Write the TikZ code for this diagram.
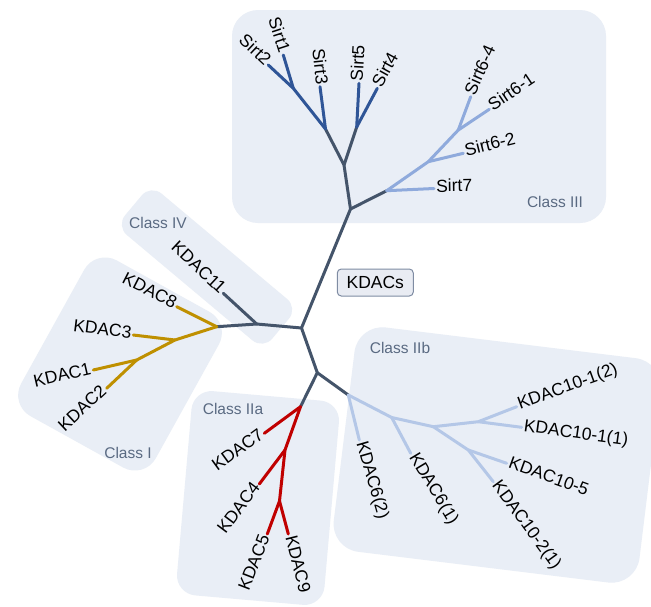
\documentclass[tikz,border=0pt]{standalone}
\usepackage{fontspec}
\setmainfont{Liberation Sans}
\definecolor{stem}{HTML}{44546A}
\definecolor{sirtdark}{HTML}{2F5597}
\definecolor{sirtlight}{HTML}{8FAADC}
\definecolor{twob}{HTML}{B4C7E7}
\definecolor{classone}{HTML}{BF9000}
\definecolor{twoa}{HTML}{C00000}
\definecolor{boxfill}{HTML}{E9EEF6}
\definecolor{classtext}{HTML}{5A6A82}
\definecolor{kfill}{HTML}{E9ECF3}
\definecolor{kborder}{HTML}{7F8CA3}
\begin{document}
\begin{tikzpicture}[x=1pt,y=-1pt,
  br/.style={line width=3pt, line cap=round, line join=round},
  leaf/.style={font=\fontsize{17.5}{20}\selectfont, inner sep=2pt, text height=0.72em, text depth=0pt},
  cls/.style={font=\fontsize{15.5}{18}\selectfont, text=classtext, inner sep=0pt},
  classbox/.style={fill=boxfill, draw=none, rounded corners=#1, inner sep=0pt},
]
\useasboundingbox[fill=white] (0,0) rectangle (651,606);

% group backgrounds
\node[classbox=26pt, minimum width=374pt, minimum height=213pt] (boxIII) at (419,116.5) {};
\node[classbox=14pt, minimum width=192pt, minimum height=54pt, rotate=-40] (boxIV) at (207,267) {};
\node[classbox=24pt, minimum width=154pt, minimum height=178pt, rotate=-29] (boxI) at (120,364) {};
\node[classbox=20pt, minimum width=148pt, minimum height=205pt, rotate=-5] (boxIIa) at (258,498) {};
\node[classbox=28pt, minimum width=308pt, minimum height=226pt, rotate=-7] (boxIIb) at (497,455) {};

% group captions
\node[cls] (capIII) at (555,202) {Class III};
\node[cls] (capIV) at (158,223) {Class IV};
\node[cls] (capI) at (128,453) {Class I};
\node[cls] (capIIa) at (233,409) {Class IIa};
\node[cls] (capIIb) at (400,348) {Class IIb};

% root label
\node[draw=kborder, fill=kfill, rounded corners=4pt, line width=1pt,
      minimum width=76pt, minimum height=27pt, inner sep=0pt,
      font=\fontsize{17.5}{20}\selectfont] (kdacs) at (375.3,282.5) {KDACs};

% internal branch points
\coordinate (root) at (301.5,328);
\coordinate (j3) at (350.5,209);
\coordinate (j3a) at (344,165);
\coordinate (a) at (325.5,129);
\coordinate (b) at (293.3,88.3);
\coordinate (c) at (356.7,127);
\coordinate (d) at (386.7,190.7);
\coordinate (e) at (428.3,161.7);
\coordinate (f) at (458.3,130);
\coordinate (g) at (256.7,324);
\coordinate (k) at (216.7,326.7);
\coordinate (l) at (175,340);
\coordinate (m) at (136.7,360);
\coordinate (n) at (317.3,372.7);
\coordinate (p) at (300.5,406.7);
\coordinate (r) at (285,450);
\coordinate (s) at (279.5,501);
\coordinate (q) at (348.3,395);
\coordinate (t) at (391.7,417.5);
\coordinate (u) at (433.3,426.7);
\coordinate (w) at (478.3,421.7);
\coordinate (v) at (468.3,450);

% leaves: Class III
\node[leaf, anchor=east, rotate=-43] (sirt2) at (268.3,65) {Sirt2};
\node[leaf, anchor=east, rotate=-72] (sirt1) at (283.3,55) {Sirt1};
\node[leaf, anchor=east, rotate=-84] (sirt3) at (320,86.7) {Sirt3};
\node[leaf, anchor=west, rotate=87] (sirt5) at (359,83.3) {Sirt5};
\node[leaf, anchor=west, rotate=61] (sirt4) at (377.3,88.3) {Sirt4};
\node[leaf, anchor=west, rotate=66] (sirt64) at (470.7,96.7) {Sirt6-4};
\node[leaf, anchor=west, rotate=34] (sirt61) at (489.3,109.3) {Sirt6-1};
\node[leaf, anchor=west, rotate=14] (sirt62) at (463.3,153.3) {Sirt6-2};
\node[leaf, anchor=west, rotate=1] (sirt7) at (434,188.5) {Sirt7};
% Class IV
\node[leaf, anchor=east, rotate=-43] (k11) at (223.3,293.3) {KDAC11};
% Class I
\node[leaf, anchor=east, rotate=-27] (k8) at (176.7,306.7) {KDAC8};
\node[leaf, anchor=east, rotate=-7] (k3) at (133.3,335) {KDAC3};
\node[leaf, anchor=east, rotate=13] (k1) at (93.3,370) {KDAC1};
\node[leaf, anchor=east, rotate=43] (k2) at (106.7,388.3) {KDAC2};
% Class IIa
\node[leaf, anchor=east, rotate=36] (k7) at (264.3,433.3) {KDAC7};
\node[leaf, anchor=east, rotate=53] (k4) at (259.3,484) {KDAC4};
\node[leaf, anchor=east, rotate=69] (k5) at (267.3,534) {KDAC5};
\node[leaf, anchor=west, rotate=-76] (k9) at (288.3,534) {KDAC9};
% Class IIb
\node[leaf, anchor=west, rotate=-74] (k62) at (359.3,440) {KDAC6(2)};
\node[leaf, anchor=west, rotate=-59] (k61) at (410.7,453.3) {KDAC6(1)};
\node[leaf, anchor=west, rotate=-54] (k1021) at (493.3,481.7) {KDAC10-2(1)};
\node[leaf, anchor=west, rotate=-20] (k105) at (506.7,463.3) {KDAC10-5};
\node[leaf, anchor=west, rotate=-8] (k1011) at (521.7,427.3) {KDAC10-1(1)};
\node[leaf, anchor=west, rotate=20] (k1012) at (516.7,406.7) {KDAC10-1(2)};

% backbone
\draw[br, stem] (k) -- (g) -- (root) -- (j3) -- (j3a) -- (a);
\draw[br, stem] (j3a) -- (c);
\draw[br, stem] (j3) -- (d);
\draw[br, stem] (g) -- (k11.east);
\draw[br, stem] (root) -- (n) -- (p);
\draw[br, stem] (n) -- (q);

% Sirt1-5
\draw[br, sirtdark] (a) -- (b) -- (sirt2.east);
\draw[br, sirtdark] (b) -- (sirt1.east);
\draw[br, sirtdark] (a) -- (sirt3.east);
\draw[br, sirtdark] (c) -- (sirt5.west);
\draw[br, sirtdark] (c) -- (sirt4.west);
% Sirt6/7
\draw[br, sirtlight] (d) -- (sirt7.west);
\draw[br, sirtlight] (d) -- (e) -- (f) -- (sirt64.west);
\draw[br, sirtlight] (f) -- (sirt61.west);
\draw[br, sirtlight] (e) -- (sirt62.west);
% Class I
\draw[br, classone] (k) -- (k8.east);
\draw[br, classone] (k) -- (l) -- (m) -- (k1.east);
\draw[br, classone] (l) -- (k3.east);
\draw[br, classone] (m) -- (k2.east);
% Class IIa
\draw[br, twoa] (p) -- (k7.east);
\draw[br, twoa] (p) -- (r) -- (s) -- (k5.east);
\draw[br, twoa] (r) -- (k4.east);
\draw[br, twoa] (s) -- (k9.west);
% Class IIb
\draw[br, twob] (q) -- (k62.west);
\draw[br, twob] (q) -- (t) -- (u) -- (w) -- (k1012.west);
\draw[br, twob] (t) -- (k61.west);
\draw[br, twob] (w) -- (k1011.west);
\draw[br, twob] (u) -- (v) -- (k1021.west);
\draw[br, twob] (v) -- (k105.west);
\end{tikzpicture}
\end{document}
